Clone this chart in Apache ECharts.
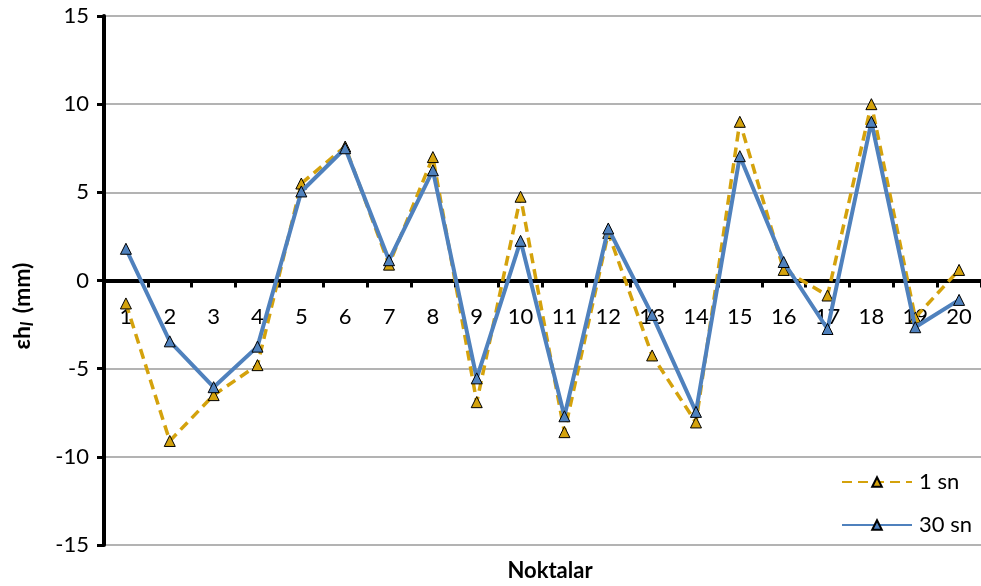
<!DOCTYPE html>
<html><head><meta charset="utf-8">
<script src="https://cdn.jsdelivr.net/npm/echarts@6/dist/echarts.min.js"></script>
<style>html,body{margin:0;padding:0;background:#fff}#c{width:981px;height:586px}</style>
</head><body><div id="c"></div>
<script>
const categories = ['1','2','3','4','5','6','7','8','9','10','11','12','13','14','15','16','17','18','19','20'];
const series1sn = [-1.3,-9.1,-6.5,-4.8,5.5,7.6,0.9,7.0,-6.9,4.75,-8.6,2.7,-4.25,-8.05,9.0,0.6,-0.85,10.0,-2.1,0.6];
const series30sn = [1.8,-3.45,-6.05,-3.75,5.05,7.5,1.15,6.25,-5.55,2.25,-7.7,2.95,-1.95,-7.45,7.05,1.05,-2.75,9.0,-2.65,-1.1];
const yTicks = {min:-15, max:15, interval:5};
const FONT = 'Lato, "Open Sans", sans-serif';
const GH = 529;
const chart = echarts.init(document.getElementById('c'), null, {renderer:'canvas'});
chart.setOption({
  animation:false,
  grid:{left:104, top:16, width:879, height:GH, containLabel:false},
  title:{text:'Noktalar', left:545, top:555, textAlign:'center',
    textStyle:{fontFamily:FONT, fontSize:22, fontWeight:'bold', color:'#000'}},
  graphic:[{type:'text', x:23, y:306, rotation:Math.PI/2, z:10,
    style:{text:'{a|εh}{s|l}{a| (mm)}', align:'center', verticalAlign:'middle',
      font:'bold 23px Lato, sans-serif', fill:'#000',
      rich:{
        a:{fontFamily:FONT, fontSize:23, fontWeight:'bold', fill:'#000', color:'#000'},
        s:{fontFamily:FONT, fontSize:17, fontWeight:'bold', fontStyle:'italic', fill:'#000', color:'#000', verticalAlign:'bottom', padding:[9,3,0,0]}}}}],
  legend:{orient:'vertical', left:836, top:466, itemWidth:70, itemHeight:12, itemGap:21,
    textStyle:{fontFamily:FONT, fontSize:22, color:'#000', padding:[0,0,0,2]},
    data:['1 sn','30 sn']},
  xAxis:{type:'category', data:categories, boundaryGap:true, position:'bottom', offset:-GH/2,
    axisLine:{onZero:false, lineStyle:{color:'#000', width:4}},
    axisTick:{show:true, length:7, inside:false, lineStyle:{color:'#000', width:3}},
    axisLabel:{fontFamily:FONT, fontSize:22, color:'#000', margin:25, interval:0},
    splitLine:{show:false}},
  yAxis:{type:'value', min:yTicks.min, max:yTicks.max, interval:yTicks.interval,
    axisLine:{show:true, lineStyle:{color:'#000', width:4}},
    axisTick:{show:true, length:7, lineStyle:{color:'#000', width:3}},
    axisLabel:{fontFamily:FONT, fontSize:22, color:'#000', margin:15},
    splitLine:{show:true, lineStyle:{color:'#9a9a9a', width:1.5}}},
  series:[
    {name:'1 sn', type:'line', data:series1sn, symbol:'triangle', symbolSize:11,
      lineStyle:{color:'#D4A20C', width:3.5, type:[10,6]},
      itemStyle:{color:'#D4A20C', borderColor:'#000', borderWidth:1}, z:2},
    {name:'30 sn', type:'line', data:series30sn, symbol:'triangle', symbolSize:11,
      lineStyle:{color:'#4F81BD', width:4},
      itemStyle:{color:'#4F81BD', borderColor:'#000', borderWidth:1}, z:3}
  ]
});
</script></body></html>
